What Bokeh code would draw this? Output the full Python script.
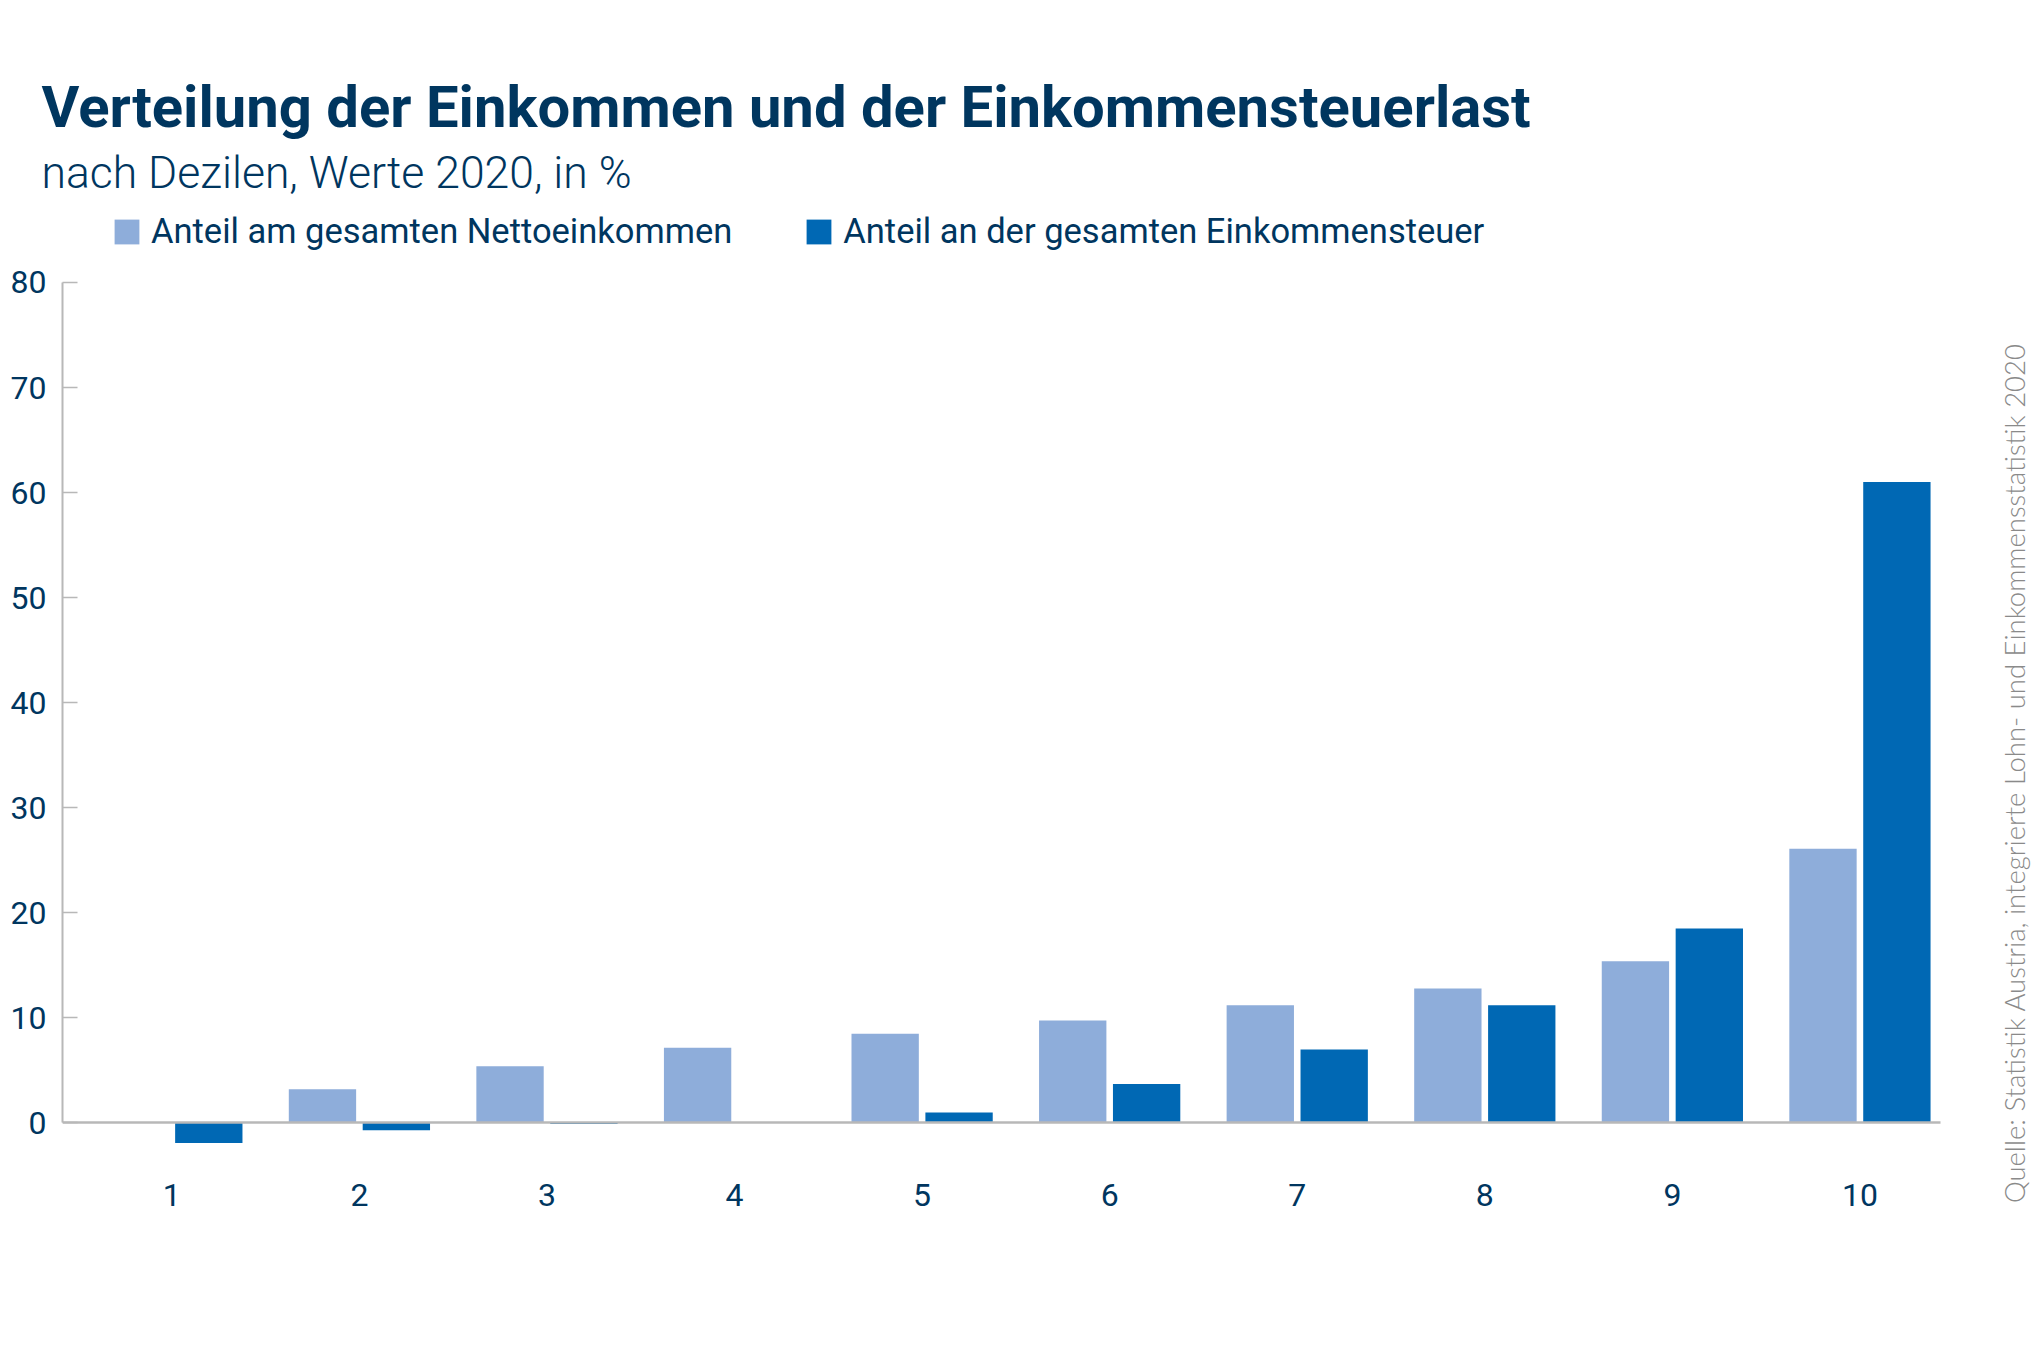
from bokeh.plotting import figure
from bokeh.models import (Range1d, FixedTicker, Legend, LegendItem, ColumnDataSource,
                          Title, Label)
from bokeh.transform import dodge
from bokeh.embed import file_html
from bokeh.resources import INLINE
import math

# Data
deciles = [1, 2, 3, 4, 5, 6, 7, 8, 9, 10]
netto = [0.1, 3.2, 5.4, 7.15, 8.5, 9.75, 11.2, 12.8, 15.4, 26.1]
steuer = [-1.9, -0.7, -0.1, 0.0, 1.0, 3.7, 7.0, 11.2, 18.5, 61.0]
y_ticks = [0, 10, 20, 30, 40, 50, 60, 70, 80]
series_names = ["Anteil am gesamten Nettoeinkommen", "Anteil an der gesamten Einkommensteuer"]

title_text = "Verteilung der Einkommen und der Einkommensteuerlast"
subtitle_text = "nach Dezilen, Werte 2020, in %"
source_text = "Quelle: Statistik Austria, integrierte Lohn- und Einkommensstatistik 2020"

NAVY = "#00365f"
LIGHT = "#8eadda"
DARK = "#0068b4"
GREY = "#b8b8b8"

src = ColumnDataSource(dict(decile=deciles, netto=netto, steuer=steuer))

X0, X1 = 0.417, 10.43          # extent of the category axis
p = figure(width=2032, height=1366, output_backend="svg", toolbar_location=None,
           x_range=Range1d(X0, 10.92), y_range=Range1d(-9, 87.71),
           min_border_left=62, min_border_right=0, min_border_top=0, min_border_bottom=149)
p.outline_line_color = None
p.xgrid.grid_line_color = None
p.ygrid.grid_line_color = None
p.background_fill_color = "white"
p.border_fill_color = "white"

r1 = p.vbar(x=dodge("decile", -0.197, range=p.x_range), top="netto", bottom=0, width=0.359,
            source=src, fill_color=LIGHT, line_color=None)
r2 = p.vbar(x=dodge("decile", 0.197, range=p.x_range), top="steuer", bottom=0, width=0.359,
            source=src, fill_color=DARK, line_color=None)

# Y axis
ya = p.yaxis[0]
ya.ticker = FixedTicker(ticks=y_ticks)
ya.bounds = (0, 80)
ya.axis_line_color = GREY
ya.axis_line_width = 2
ya.major_tick_line_color = GREY
ya.major_tick_line_width = 1.5
ya.major_tick_in = 15
ya.major_tick_out = 0
ya.minor_tick_line_color = None
ya.major_label_standoff = 16
ya.major_label_text_font = "Roboto"
ya.major_label_text_font_size = "32px"
ya.major_label_text_color = NAVY

# X axis drawn on the zero line
xa = p.xaxis[0]
xa.fixed_location = 0
xa.bounds = (X0, X1)
xa.ticker = FixedTicker(ticks=deciles)
xa.axis_line_color = GREY
xa.axis_line_width = 2.5
xa.major_tick_line_color = None
xa.minor_tick_line_color = None
xa.major_tick_in = 0
xa.major_tick_out = 0
xa.major_label_standoff = 61
xa.major_label_text_font = "Roboto"
xa.major_label_text_font_size = "32px"
xa.major_label_text_color = NAVY

# Legend inside the (extended) frame, above the 80 tick
legend = Legend(items=[LegendItem(label=series_names[0], renderers=[r1]),
                       LegendItem(label=series_names[1], renderers=[r2])],
                orientation="horizontal", location=(49, 966),
                glyph_width=31, glyph_height=31, label_standoff=9, spacing=71,
                padding=0, margin=0, border_line_color=None, background_fill_alpha=0,
                label_text_font="Roboto", label_text_font_size="34.5px", label_text_color=NAVY)
p.add_layout(legend, "center")

# Source note, vertical at the right edge
p.add_layout(Label(x=10.825, y=33.3, text=source_text, angle=math.pi / 2,
                   text_font="Lato Light", text_font_size="27.5px", text_color="#8a8a8a",
                   text_align="center", text_baseline="middle"))

# Subtitle, title and a spacer above them
p.add_layout(Title(text=subtitle_text, align="left", offset=-21, standoff=6,
                   text_font="Roboto Light", text_font_style="normal", text_font_size="44.5px",
                   text_color=NAVY), "above")
p.add_layout(Title(text=title_text, align="left", offset=-21, standoff=2,
                   text_font="Roboto", text_font_style="bold", text_font_size="58px",
                   text_color=NAVY), "above")
p.add_layout(Title(text=" ", align="left", standoff=9, text_font="Roboto",
                   text_font_size="50px", text_color="white"), "above")

open("out.html", "w").write(file_html(p, INLINE))
